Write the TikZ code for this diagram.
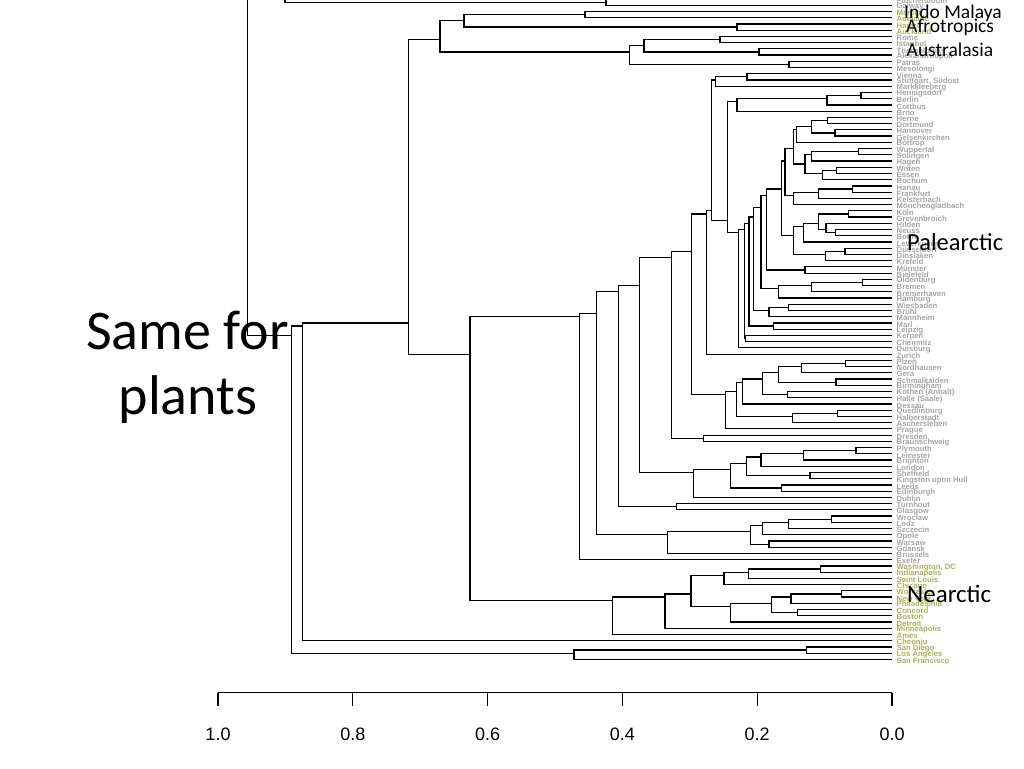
\documentclass[tikz,border=0pt]{standalone}
\usepackage{fontspec}
\setmainfont{Carlito}
\newfontfamily\leaffont{Liberation Sans}
\definecolor{leafgray}{RGB}{165,165,165}
\definecolor{leafgreen}{RGB}{170,178,90}

\def\ytop{-1}
\def\dy{6.23}
\def\xleaf{891.5}

% merge two clusters: new name, upper child, lower child, x of the merge
\newcommand\mrg[4]{%
  \pgfmathsetmacro\mrgn{\csname dn@#2\endcsname+\csname dn@#3\endcsname}%
  \pgfmathsetmacro\mrgs{\csname ds@#2\endcsname+\csname ds@#3\endcsname}%
  \expandafter\xdef\csname dn@#1\endcsname{\mrgn}%
  \expandafter\xdef\csname ds@#1\endcsname{\mrgs}%
  \pgfmathsetmacro\mrgy{\ytop+\dy*(\mrgs/\mrgn)}%
  \coordinate (#1) at (#4,\mrgy);
  \draw[edge] (#2) -| (#1) |- (#3);}

\tikzset{
  edge/.style={line width=1.2pt},
  axis/.style={line width=1.1pt},
  leaf/.style={font=\leaffont\bfseries\fontsize{7.7}{8}\selectfont, inner sep=0pt, anchor=west},
  region/.style={inner sep=0pt, anchor=base west},
}

\begin{document}
\begin{tikzpicture}[x=1pt, y=-1pt]
    \useasboundingbox (0,0) rectangle (1024,768);
    \clip (0,0) rectangle (1024,768);

    % leaves
    \coordinate (lh) at (\xleaf, {\ytop-2*\dy});
    \expandafter\xdef\csname dn@lh\endcsname{1}
    \expandafter\xdef\csname ds@lh\endcsname{-2}
    \foreach \lab [count=\i from 0] in {Fulchenboom, Galway, Manila, Adelaide, Harare, Auckland,
        Rome, Istanbul, Thessaloniki, Alexandroupoli, Patras, Mesolongi, Vienna, {Stuttgart, Südost},
        Markkleeberg, Hennigsdorf, Berlin, Cottbus, Brno, Herne, Dortmund, Hannover, Gelsenkirchen,
        Bottrop, Wuppertal, Solingen, Hagen, Witten, Essen, Bochum, Hanau, Frankfurt, Kelsterbach,
        Mönchengladbach, Köln, Grevenbroich, Hilden, Neuss, Bonn, Leverkusen, Düsseldorf, Dinslaken,
        Krefeld, Münster, Bielefeld, Oldenburg, Bremen, Bremerhaven, Hamburg, Wiesbaden, Brühl,
        Mannheim, Marl, Leipzig, Kerpen, Chemnitz, Duisburg, Zurich, Plzeň, Nordhausen, Gera,
        Schmalkalden, Birmingham, {Köthen (Anhalt)}, {Halle (Saale)}, Dessau, Quedlinburg,
        Halberstadt, Aschersleben, Prague, Dresden, Braunschweig, Plymouth, Leicester, Brighton,
        London, Sheffield, {Kingston upon Hull}, Leeds, Edinburgh, Dublin, Turnhout, Glasgow,
        Wroclaw, Lodz, Szczecin, Opole, Warsaw, Gdansk, Brussels, Exeter, {Washington, DC},
        Indianapolis, {Saint Louis}, Chicago, Worcester, {New York}, Philadelphia, Concord, Boston,
        Detroit, Minneapolis, Ames, Cheonju, {San Diego}, {Los Angeles}, {San Francisco}} {
        \ifnum\i>90 \def\lc{leafgreen}\else\ifnum\i>5 \def\lc{leafgray}\else
            \ifnum\i>1 \def\lc{leafgreen}\else\def\lc{leafgray}\fi\fi\fi
        \coordinate (l\i) at (\xleaf, {\ytop+\dy*\i});
        \expandafter\xdef\csname dn@l\i\endcsname{1}
        \expandafter\xdef\csname ds@l\i\endcsname{\i}
        \node[leaf, text=\lc] (t\i) at ([xshift=5pt, yshift=-1.5pt]l\i) {\lab};
    }

    % top, cut off by the frame
    \mrg{n606}{l0}{l1}{606}
    \mrg{n285}{lh}{n606}{285}

    % Indo Malaya, Afrotropics, Australasia, south-east Europe
    \mrg{a1}{l2}{l3}{585}
    \mrg{a2}{l4}{l5}{737}
    \mrg{a3}{a1}{a2}{464}
    \mrg{a4}{l6}{l7}{720}
    \mrg{a5}{l8}{l9}{759}
    \mrg{a6}{a4}{a5}{644}
    \mrg{a7}{l10}{l11}{789}
    \mrg{a8}{a6}{a7}{629.5}
    \mrg{a9}{a3}{a8}{440}

    % Palearctic
    \mrg{p1}{l12}{l13}{747}
    \mrg{p2}{p1}{l14}{715.6}
    \mrg{p3}{l15}{l16}{861}
    \mrg{p4}{p3}{l17}{827}
    \mrg{p5}{p4}{l18}{737}
    \mrg{p6}{l19}{l20}{827.7}
    \mrg{p7}{l21}{l22}{835}
    \mrg{p8}{p6}{p7}{811.7}
    \mrg{p9}{p8}{l23}{796.7}
    \mrg{p10}{l24}{l25}{858.3}
    \mrg{p11}{p10}{l26}{811.7}
    \mrg{p12}{l27}{l28}{836.7}
    \mrg{p13}{p12}{l29}{822.7}
    \mrg{p14}{p11}{p13}{805}
    \mrg{p15}{p9}{p14}{793.3}
    \mrg{p16}{l30}{l31}{852.3}
    \mrg{p17}{p16}{l32}{818.3}
    \mrg{p18}{p17}{l33}{793.3}
    \mrg{p19}{p15}{p18}{785}
    \mrg{p20}{l34}{l35}{848.3}
    \mrg{p21}{l37}{l38}{835.7}
    \mrg{p22}{l36}{p21}{826}
    \mrg{p23}{p20}{p22}{818.3}
    \mrg{p24}{p23}{l39}{803.3}
    \mrg{p25}{l40}{l41}{845}
    \mrg{p26}{p25}{l42}{825.7}
    \mrg{p27}{p24}{p26}{793.3}
    \mrg{p28}{p19}{p27}{781.7}
    \mrg{p29}{l43}{l44}{805}
    \mrg{p30}{p28}{p29}{766.7}
    \mrg{p31}{l45}{l46}{862.3}
    \mrg{p32}{p31}{l47}{811.7}
    \mrg{p33}{p32}{l48}{778.3}
    \mrg{p34}{p30}{p33}{761}
    \mrg{p35}{l49}{l50}{788.3}
    \mrg{p36}{p35}{l51}{769}
    \mrg{p37}{p34}{p36}{753.3}
    \mrg{p38}{l52}{l53}{773.3}
    \mrg{p39}{p37}{p38}{749}
    \mrg{p40}{l54}{l55}{745.5}
    \mrg{p41}{p39}{p40}{744.3}
    \mrg{p42}{p41}{l56}{738.3}
    \mrg{p43}{p5}{p42}{727.7}
    \mrg{p44}{p2}{p43}{711.7}
    \mrg{p45}{p44}{l57}{706.7}
    \mrg{p46}{l58}{l59}{845.7}
    \mrg{p47}{p46}{l60}{801.7}
    \mrg{p48}{l61}{l62}{836}
    \mrg{p49}{p47}{p48}{778.3}
    \mrg{p50}{l63}{l64}{787.3}
    \mrg{p51}{p49}{p50}{762.3}
    \mrg{p52}{p51}{l65}{742.3}
    \mrg{p53}{l66}{l67}{837.7}
    \mrg{p54}{p53}{l68}{792.3}
    \mrg{p55}{p52}{p54}{736.7}
    \mrg{p56}{p55}{l69}{725.7}
    \mrg{p57}{p45}{p56}{691.7}
    \mrg{p58}{l70}{l71}{703.3}
    \mrg{p59}{p57}{p58}{671.7}
    \mrg{p60}{l72}{l73}{856}
    \mrg{p61}{p60}{l74}{803.3}
    \mrg{p62}{p61}{l75}{761}
    \mrg{p63}{l76}{l77}{810}
    \mrg{p64}{p62}{p63}{746.7}
    \mrg{p65}{l78}{l79}{781.7}
    \mrg{p66}{p64}{p65}{730.7}
    \mrg{p67}{p66}{l80}{693.3}
    \mrg{p68}{p59}{p67}{639.3}
    \mrg{p69}{l81}{l82}{676.7}
    \mrg{p70}{p68}{p69}{618.3}
    \mrg{p71}{l83}{l84}{831.7}
    \mrg{p72}{p71}{l85}{788.3}
    \mrg{p73}{p72}{l86}{762.3}
    \mrg{p74}{l87}{l88}{769}
    \mrg{p75}{p73}{p74}{750.7}
    \mrg{p76}{p75}{l89}{667.3}
    \mrg{p77}{p70}{p76}{596.7}
    \mrg{p78}{p77}{l90}{579.3}

    % Nearctic
    \mrg{q1}{l91}{l92}{820.7}
    \mrg{q2}{q1}{l93}{748.3}
    \mrg{q3}{q2}{l94}{724}
    \mrg{q4}{l95}{l96}{841.7}
    \mrg{q5}{q4}{l97}{791}
    \mrg{q6}{l98}{l99}{797.3}
    \mrg{q7}{q5}{q6}{771.7}
    \mrg{q8}{q7}{l100}{730.7}
    \mrg{q9}{q3}{q8}{691}
    \mrg{q10}{q9}{l101}{665}
    \mrg{q11}{q10}{l102}{612.3}
    \mrg{q12}{l104}{l105}{806.7}
    \mrg{q13}{q12}{l106}{574}

    % joins near the root
    \mrg{r1}{p78}{q11}{470}
    \mrg{r2}{a9}{r1}{408.7}
    \mrg{r3}{r2}{l103}{302.3}
    \mrg{r4}{r3}{q13}{291.7}
    \mrg{root}{n285}{r4}{247.7}

    % height axis
    \draw[axis] (218,692.5) -- (892,692.5);
    \foreach \v [count=\k from 0] in {1.0, 0.8, 0.6, 0.4, 0.2, 0.0} {
        \draw[axis] ({218+134.8*\k},692.5) -- ++(0,13.5);
        \node[font=\leaffont\fontsize{18}{18}\selectfont, anchor=base] (tick\k) at ({218+134.8*\k},740) {\v};
    }

    % region labels
    \node[region, font=\fontsize{19.5}{20}\selectfont] (indo) at (904,18.5) {Indo Malaya};
    \node[region, font=\fontsize{19.5}{20}\selectfont] (afro) at (906,32.5) {Afrotropics};
    \node[region, font=\fontsize{19.5}{20}\selectfont] (aust) at (906.5,56.5) {Australasia};
    \node[region, font=\fontsize{24.5}{25}\selectfont] (pal) at (907,250) {Palearctic};
    \node[region, font=\fontsize{25}{25}\selectfont] (nea) at (907,602) {Nearctic};

    % title
    \node[font=\fontsize{56}{65}\selectfont, anchor=base] (same) at (187.5,349) {Same for};
    \node[font=\fontsize{56}{65}\selectfont, anchor=base] (plants) at (188,414) {plants};
\end{tikzpicture}
\end{document}
